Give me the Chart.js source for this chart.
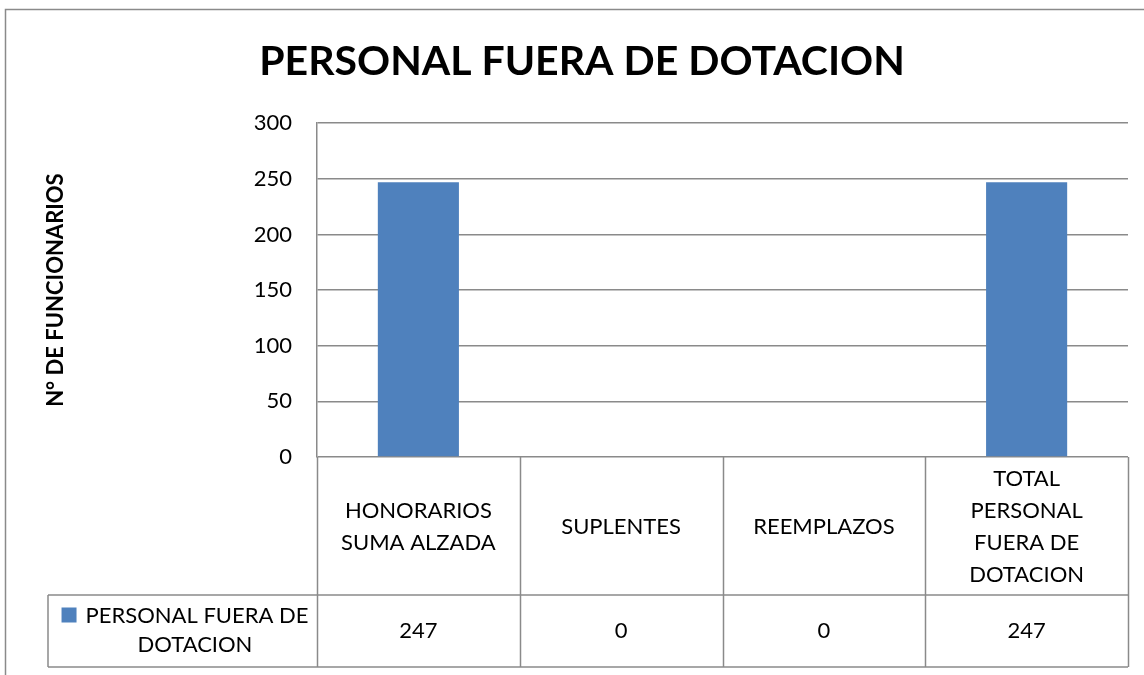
<!DOCTYPE html>
<html>
<head>
<meta charset="utf-8">
<script src="https://cdn.jsdelivr.net/npm/chart.js@4"></script>
<style>
  html, body { margin: 0; padding: 0; background: #fff; }
  canvas { display: block; }
</style>
</head>
<body>
<canvas id="grafico" width="1144" height="675"></canvas>
<script>
// Datos
const categorias = [["HONORARIOS", "SUMA ALZADA"], ["SUPLENTES"], ["REEMPLAZOS"], ["TOTAL", "PERSONAL", "FUERA DE", "DOTACION"]];
const valores = [247, 0, 0, 247];
const serieLineas = ["PERSONAL FUERA DE", "DOTACION"];
const titulo = "PERSONAL FUERA DE DOTACION";
const tituloEje = "N° DE FUNCIONARIOS";
const ticksY = [0, 50, 100, 150, 200, 250, 300];

const azul = "#4F81BD";
const gris = "#8A8A8A";
const fuente = "Lato";

// Marco exterior del gráfico
const marco = {
  id: "marco",
  beforeDraw(chart) {
    const ctx = chart.ctx;
    ctx.save();
    ctx.strokeStyle = gris;
    ctx.lineWidth = 1.5;
    ctx.beginPath();
    ctx.moveTo(5.5, chart.height);
    ctx.lineTo(5.5, 9.5);
    ctx.lineTo(chart.width, 9.5);
    ctx.stroke();
    ctx.restore();
  }
};

// Tabla de datos bajo el eje X
const tablaDatos = {
  id: "tablaDatos",
  afterDraw(chart) {
    const { ctx, chartArea, scales: { x } } = chart;
    const arriba = chartArea.bottom;
    const abajo = x.bottom;
    const filaValores = abajo - 72;
    const izqLeyenda = 48;
    const n = valores.length;

    ctx.save();
    ctx.strokeStyle = gris;
    ctx.lineWidth = 1.5;
    ctx.beginPath();
    for (let i = 0; i <= n; i++) {
      const px = Math.round(x.getPixelForValue(i - 0.5)) + 0.5;
      ctx.moveTo(px, arriba);
      ctx.lineTo(px, abajo);
    }
    ctx.moveTo(izqLeyenda, filaValores);
    ctx.lineTo(chartArea.right, filaValores);
    ctx.moveTo(izqLeyenda, abajo);
    ctx.lineTo(chartArea.right, abajo);
    ctx.moveTo(izqLeyenda, filaValores);
    ctx.lineTo(izqLeyenda, abajo);
    ctx.stroke();

    // Valores
    ctx.fillStyle = "#000";
    ctx.font = `22px ${fuente}`;
    ctx.textAlign = "center";
    ctx.textBaseline = "middle";
    const medio = (filaValores + abajo) / 2;
    valores.forEach((v, i) => {
      ctx.fillText(String(v), x.getPixelForValue(i), medio);
    });

    // Leyenda
    const centroLeyenda = 195;
    const alto = 29;
    const y0 = medio - alto / 2 - 1;
    ctx.fillText(serieLineas[0], centroLeyenda + 2, y0);
    ctx.fillText(serieLineas[1], centroLeyenda, y0 + alto);
    const ancho = ctx.measureText(serieLineas[0]).width;
    ctx.fillStyle = azul;
    ctx.fillRect(centroLeyenda + 2 - ancho / 2 - 24, y0 - 8, 15, 15);
    ctx.restore();
  }
};

new Chart(document.getElementById("grafico"), {
  type: "bar",
  data: {
    labels: categorias,
    datasets: [{
      label: serieLineas.join(" "),
      data: valores,
      backgroundColor: azul,
      borderWidth: 0,
      barPercentage: 0.4,
      categoryPercentage: 1.0
    }]
  },
  options: {
    responsive: false,
    animation: false,
    events: [],
    layout: { padding: { left: 20, right: 0, top: 0, bottom: 8 } },
    scales: {
      x: {
        afterFit: scale => { scale.height = 210; },
        grid: { display: false },
        border: { display: false },
        ticks: {
          font: { family: fuente, size: 22, lineHeight: 1.45 },
          color: "#000",
          maxRotation: 0,
          autoSkip: false,
          padding: 14,
          crossAlign: "center"
        }
      },
      y: {
        min: 0,
        max: 300,
        afterFit: scale => { scale.width = 297; },
        afterBuildTicks: scale => { scale.ticks = ticksY.map(v => ({ value: v })); },
        ticks: { font: { family: fuente, size: 22 }, color: "#000", padding: 25 },
        grid: { color: gris, lineWidth: 1.5, drawTicks: false },
        border: { color: gris, width: 1.5 },
        title: {
          display: true,
          text: tituloEje,
          color: "#000",
          font: { family: fuente, size: 22, weight: "bold", lineHeight: 1.2 },
          padding: { top: 23, bottom: 0 }
        }
      },
      // margen derecho vacío
      margen: {
        type: "linear",
        position: "right",
        afterFit: scale => { scale.width = 16; },
        grid: { display: false },
        border: { display: false },
        ticks: { display: false }
      }
    },
    plugins: {
      legend: { display: false },
      tooltip: { enabled: false },
      title: {
        display: true,
        text: titulo,
        color: "#000",
        font: { family: fuente, size: 41, weight: "bold", lineHeight: 1.2 },
        padding: { top: 37, bottom: 37 }
      }
    }
  },
  plugins: [marco, tablaDatos]
});
</script>
</body>
</html>
